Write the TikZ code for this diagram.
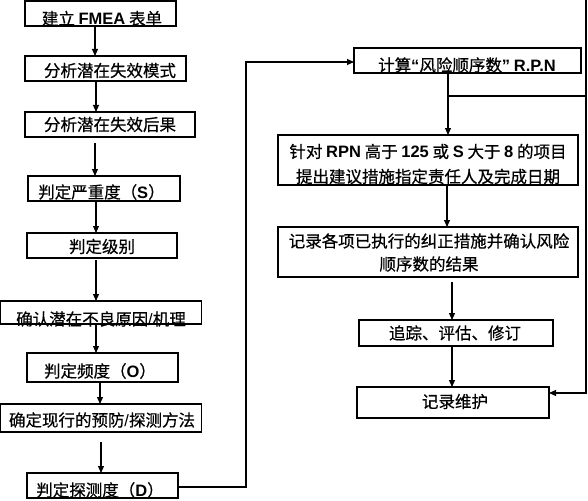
\documentclass[tikz,border=0pt]{standalone}
\usepackage{fontspec}
\setmainfont{Noto Sans CJK SC}[FakeBold=0.6]
\newfontfamily\latf{Liberation Sans}
\newcommand{\lb}[1]{{\latf\bfseries #1}}
\newcommand{\lr}[1]{{\latf #1}}
\usetikzlibrary{arrows.meta}
\begin{document}
\begin{tikzpicture}[x=1pt,y=-1pt,
  box/.style={draw, line width=1.1pt, inner sep=0pt, outer sep=0pt, anchor=center},
  txt/.style={inner sep=0pt, font=\fontsize{16.5}{24}\selectfont, align=center},
  arr/.style={-{Triangle[length=7pt,width=6pt]}, line width=1.1pt},
  ln/.style={line width=1.1pt}]
\useasboundingbox (0,0) rectangle (588,500);
% left column boxes
\node[box, minimum width=151pt, minimum height=25pt] (b1) at (100.5,13.5) {};
\node[box, minimum width=161pt, minimum height=25pt] (b2) at (105.5,68.5) {};
\node[box, minimum width=170pt, minimum height=25pt] (b3) at (110,124.5) {};
\node[box, minimum width=152pt, minimum height=25pt] (b4) at (104,188.5) {};
\node[box, minimum width=150pt, minimum height=25pt] (b5) at (102,245.5) {};
\node[box, minimum width=201pt, minimum height=23pt] (b6) at (101.4,312.5) {};
\node[box, minimum width=151pt, minimum height=29pt] (b7) at (102.5,367.5) {};
\node[box, minimum width=201pt, minimum height=28pt] (b8) at (101.4,418) {};
\node[box, minimum width=151pt, minimum height=25pt] (b9) at (102.5,485.5) {};
% right column boxes
\node[box, minimum width=227pt, minimum height=25pt] (b10) at (467.5,60.5) {};
\node[box, minimum width=300pt, minimum height=50pt] (b11) at (428,160) {};
\node[box, minimum width=300pt, minimum height=50pt] (b12) at (428,252) {};
\node[box, minimum width=194pt, minimum height=26pt] (b13) at (456,333) {};
\node[box, minimum width=192pt, minimum height=31pt] (b14) at (453,402.5) {};
% texts
\node[txt] (t1) at (102,18.5) {建立 \lb{FMEA} 表单};
\node[txt] (t2) at (110,70.5) {分析潜在失效模式};
\node[txt] (t3) at (110,124.5) {分析潜在失效后果};
\node[txt] (t4) at (101.5,192) {判定严重度（\lb{S}）};
\node[txt] (t5) at (102,246.5) {判定级别};
\node[txt] (t6) at (101,319) {确认潜在不良原因\lr{/}机理};
\node[txt] (t7) at (100,371) {判定频度（\lb{O}）};
\node[txt] (t8) at (102,420) {确定现行的预防\lr{/}探测方法};
\node[txt] (t9) at (100,490) {判定探测度（\lb{D}）};
\node[txt] (t10) at (467,65) {计算\lb{“}风险顺序数\lb{”} \lb{R.P.N}};
\node[txt] (t11) at (428,164) {针对 \lb{RPN} 高于 \lb{125} 或 \lb{S} 大于 \lb{8} 的项目\\[1pt]提出建议措施指定责任人及完成日期};
\node[txt, font=\fontsize{16.5}{23}\selectfont] (t12) at (429,252.5) {记录各项已执行的纠正措施并确认风险\\顺序数的结果};
\node[txt] (t13) at (455,333) {追踪、评估、修订};
\node[txt] (t14) at (455,401.5) {记录维护};
% helper x-positions
\coordinate (xa) at (95,0);
\coordinate (xb) at (96,0);
\coordinate (xc) at (100,0);
\coordinate (xd) at (101,0);
\coordinate (lx) at (246,0);
\coordinate (xe) at (448,0);
\coordinate (xf) at (447,0);
\coordinate (xg) at (452,0);
\coordinate (rx) at (586,0);
\coordinate (br) at (448,96);
% left connectors
\draw[arr] (b1.south -| xa) -- (b2.north -| xa);
\draw[arr] (b2.south -| xb) -- (b3.north -| xb);
\draw[arr, shorten <=6pt] (b3.south -| xa) -- (b4.north -| xa);
\draw[arr] (b4.south -| xb) -- (b5.north -| xb);
\draw[arr, shorten <=2pt] (b5.south -| xb) -- (b6.north -| xb);
\draw[arr] (b6.south -| xb) -- (b7.north -| xb);
\draw[arr] (b7.south -| xc) -- (b8.north -| xc);
\draw[arr, shorten <=10pt] (b8.south -| xd) -- (b9.north -| xd);
% loop to RPN
\draw[arr] ([yshift=-1.5pt]b9.east) -- ([yshift=-1.5pt]b9.east -| lx) |- ([yshift=-1.5pt]b10.west);
% right connectors
\draw[arr] (b10.south -| xe) -- (b11.north -| xe);
\draw[arr] (br) -| (rx) |- ([yshift=9.5pt]b14.east);
\draw[arr] (b11.south -| xf) -- (b12.north -| xf);
\draw[arr, shorten <=5pt] (b12.south -| xg) -- (b13.north -| xg);
\draw[arr] (b13.south -| xg) -- (b14.north -| xg);
\end{tikzpicture}
\end{document}
